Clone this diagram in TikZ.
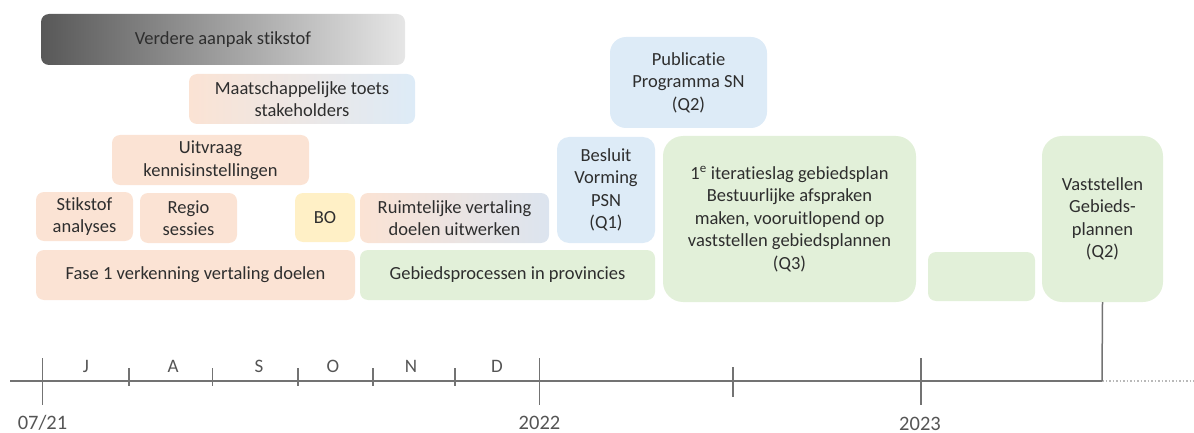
\documentclass[tikz,border=0pt]{standalone}
\usepackage{fontspec}
\setmainfont{Carlito}[Ligatures=NoCommon]
\definecolor{peach}{HTML}{FBE3D4}
\definecolor{lblue}{HTML}{DDEBF7}
\definecolor{bgray}{HTML}{DCE4EF}
\definecolor{lgreen}{HTML}{E2F0D9}
\definecolor{lyellow}{HTML}{FFF0C6}
\definecolor{txt}{HTML}{2E2E2E}
\definecolor{axisc}{HTML}{737373}
\definecolor{lbl}{HTML}{555555}
\definecolor{dgray}{HTML}{585858}
\definecolor{ggray}{HTML}{E6E6E6}
\tikzset{
  box/.style={rounded corners=8pt, inner sep=0pt, align=center, text=txt,
    font=\fontsize{18.5}{22.5}\selectfont},
  axisline/.style={draw=axisc, line width=1.5pt},
  monthlbl/.style={anchor=base, text=lbl, font=\fontsize{19}{20}\selectfont},
  yearlbl/.style={anchor=base, text=lbl, font=\fontsize{20.5}{24}\selectfont},
}
\newcommand\tlbox[7]{%
  \node[box,#6,minimum width={(#4)-(#2)},minimum height={(#5)-(#3)}] (#1)
    at ({((#2)+(#4))/2},{((#3)+(#5))/2}) {#7};}
\begin{document}
\begin{tikzpicture}[x=1pt,y=-1pt]
\useasboundingbox (0,0) rectangle (1194,433);
% boxes
\tlbox{verdere}{41}{14}{405}{65}{left color=dgray,right color=ggray}{Verdere aanpak stikstof}
\tlbox{maats}{189}{74}{415}{124}{left color=peach,right color=lblue}{Maatschappelijke toets\\stakeholders}
\tlbox{uitvraag}{112}{135}{309}{185}{fill=peach}{Uitvraag\\kennisinstellingen}
\tlbox{stikstof}{36}{192}{133}{241}{fill=peach}{Stikstof\\analyses}
\tlbox{regio}{140}{193}{237}{243}{fill=peach}{Regio\\sessies}
\tlbox{bo}{295}{193}{355}{242}{fill=lyellow}{BO}
\tlbox{ruimt}{360}{193}{549}{243}{left color=peach,right color=bgray}{Ruimtelijke vertaling\\doelen uitwerken}
\tlbox{fase}{36}{250}{355}{300}{fill=peach}{Fase 1 verkenning vertaling doelen}
\tlbox{gebieds}{360}{250}{655}{300}{fill=lgreen}{Gebiedsprocessen in provincies}
\tlbox{besluit}{557}{137}{655}{243}{fill=lblue,rounded corners=12pt}{Besluit\\Vorming\\PSN\\(Q1)}
\tlbox{publicatie}{610}{37}{767}{128}{fill=lblue,rounded corners=16pt}{Publicatie\\Programma SN\\(Q2)}
\tlbox{iter}{663}{136}{916}{302}{fill=lgreen,rounded corners=20pt}{1\textsuperscript{e} iteratieslag gebiedsplan\\Bestuurlijke afspraken\\maken, vooruitlopend op\\vaststellen gebiedsplannen\\(Q3)}
\tlbox{empty}{928}{252}{1035}{301}{fill=lgreen}{}
\tlbox{vast}{1042}{136}{1163}{302}{fill=lgreen,rounded corners=20pt}{Vaststellen\\Gebieds-\\plannen\\(Q2)}
% axis
\coordinate (a0) at (10,381);
\coordinate (aend) at (1102,381);
\coordinate (adot) at (1194,381);
\draw[axisline] (a0) -- (aend);
\draw[draw=axisc!50, line width=1.5pt, dotted] (aend) -- (adot);
\draw[axisline] (vast.south) -- (aend);
% major ticks
\foreach \x in {42.5,539.5,921} \draw[axisline] (\x,358) -- (\x,405);
\draw[axisline] (733,367) -- (733,397);
% month ticks
\foreach \x in {129,212.5,298,373,455} \draw[axisline] (\x,368) -- (\x,386);
% month labels
\node[monthlbl] (mJ) at (86,372) {J};
\node[monthlbl] (mA) at (173,372) {A};
\node[monthlbl] (mS) at (259,372) {S};
\node[monthlbl] (mO) at (333,372) {O};
\node[monthlbl] (mN) at (411,372) {N};
\node[monthlbl] (mD) at (497,372) {D};
% year labels
\node[yearlbl] (y21) at (42.5,429) {07/21};
\node[yearlbl] (y22) at (539.5,429) {2022};
\node[yearlbl] (y23) at (920,430) {2023};
\end{tikzpicture}
\end{document}
